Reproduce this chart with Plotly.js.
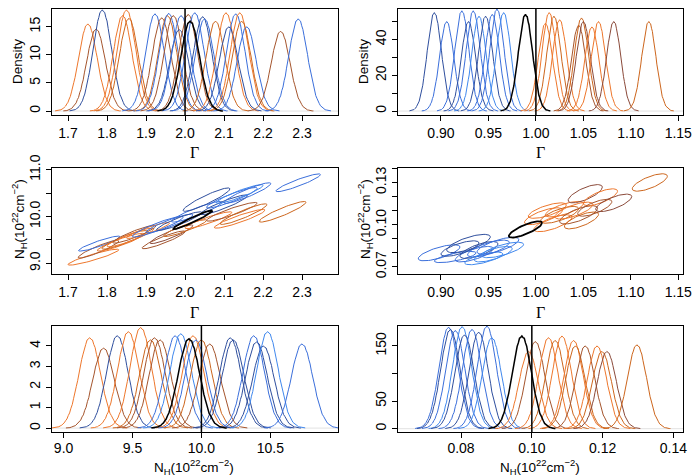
<!DOCTYPE html>
<html>
<head>
<meta charset="utf-8">
<script src="https://cdn.plot.ly/plotly-3.0.1.min.js"></script>
<style>html,body{margin:0;padding:0;background:#fff}#graph1{width:692px;height:476px}</style>
</head>
<body>
<div id="graph1"></div>
<script>
(function() {
  const BLUE = '#3b6fdb', LBLUE = '#4088ee', DBLUE = '#2f4f9e';
  const ORANGE = '#ee772c', CORANGE = '#cd661d', SIENNA = '#a5552d', DBROWN = '#8b4a3a';

  // shape of one posterior histogram, offsets -3.5..3.5 sd in steps of 0.125
  const profile = [0.002, 0.004, 0.004, 0.008, 0.012, 0.015, 0.024, 0.030, 0.046, 0.058, 0.082, 0.101, 0.138, 0.168,
    0.220, 0.262, 0.330, 0.384, 0.462, 0.525, 0.612, 0.676, 0.760, 0.818, 0.886, 0.925, 0.975, 0.985, 1.000,
    0.982, 0.975, 0.925, 0.890, 0.815, 0.762, 0.675, 0.612, 0.524, 0.465, 0.380, 0.330, 0.260, 0.222, 0.165,
    0.140, 0.100, 0.083, 0.057, 0.047, 0.030, 0.025, 0.014, 0.012, 0.006, 0.005, 0.002, 0.002];

  // top left: Gamma posteriors, true value 2.0
  const gamLoCenter = [1.751, 1.772, 1.788, 1.840, 1.850, 1.856, 1.923, 1.940, 1.955, 1.958, 1.970, 1.985, 1.990,
    2.008, 2.025, 2.045, 2.050, 2.078, 2.105, 2.112, 2.130, 2.140, 2.145, 2.158, 2.245, 2.290];
  const gamLoPeak = [15.5, 14.6, 18.0, 17.0, 18.0, 16.5, 17.3, 16.6, 17.0, 17.4, 17.0, 14.5, 17.0,
    17.2, 17.5, 16.8, 16.4, 16.0, 17.5, 15.0, 17.3, 17.5, 16.0, 15.0, 14.2, 16.4];
  const gamLoColor = [ORANGE, SIENNA, DBLUE, ORANGE, ORANGE, CORANGE, BLUE, SIENNA, CORANGE, BLUE, SIENNA, DBLUE, BLUE,
    SIENNA, BLUE, DBLUE, BLUE, CORANGE, ORANGE, DBLUE, BLUE, ORANGE, CORANGE, BLUE, SIENNA, BLUE];
  const gamLoRef = {center: 2.013, peak: 16.0, truth: 2.0};

  // top right: Gamma posteriors, true value 1.0
  const gamHiCenter = [0.893, 0.906, 0.922, 0.929, 0.934, 0.940, 0.947, 0.954, 0.959, 0.966,
    1.010, 1.014, 1.019, 1.025, 1.045, 1.048, 1.050, 1.059, 1.066, 1.082, 1.119];
  const gamHiPeak = [55, 50, 56, 50, 56, 53, 53, 54, 57, 55, 49, 55, 53, 51, 48, 52, 50, 47, 50, 50, 50];
  const gamHiColor = [DBLUE, BLUE, BLUE, DBLUE, BLUE, LBLUE, DBLUE, BLUE, BLUE, LBLUE,
    ORANGE, ORANGE, CORANGE, ORANGE, SIENNA, CORANGE, DBROWN, ORANGE, ORANGE, DBROWN, CORANGE];
  const gamHiRef = {center: 0.989, peak: 54, truth: 1.0};

  // middle left: joint contours (Gamma, NH)
  const jLoGam = [1.765, 1.778, 1.780, 1.835, 1.845, 1.860, 1.870, 1.905, 1.930, 1.945, 1.965, 1.960, 1.985,
    2.000, 2.030, 2.055, 2.060, 2.100, 2.120, 2.140, 2.160, 2.120, 2.140, 2.150, 2.250, 2.290];
  const jLoNh = [9.13, 9.30, 9.42, 9.45, 9.50, 9.55, 9.62, 9.70, 9.78, 9.50, 9.62, 9.85, 9.90,
    9.75, 10.10, 10.36, 9.92, 10.25, 10.40, 10.48, 10.50, 10.10, 9.95, 10.05, 10.10, 10.72];
  const jLoGamHalf = [0.065, 0.052, 0.053, 0.060, 0.058, 0.060, 0.055, 0.055, 0.065, 0.055, 0.055, 0.060, 0.058,
    0.055, 0.065, 0.060, 0.060, 0.060, 0.065, 0.060, 0.060, 0.065, 0.065, 0.060, 0.060, 0.057];
  const jLoNhHalf = [0.17, 0.19, 0.16, 0.19, 0.20, 0.20, 0.19, 0.17, 0.22, 0.19, 0.20, 0.20, 0.20,
    0.18, 0.22, 0.25, 0.18, 0.21, 0.22, 0.20, 0.22, 0.20, 0.20, 0.22, 0.22, 0.19];
  const jLoColor = [ORANGE, SIENNA, BLUE, ORANGE, CORANGE, ORANGE, SIENNA, ORANGE, BLUE, SIENNA, DBROWN, BLUE, DBLUE,
    CORANGE, BLUE, DBLUE, ORANGE, DBLUE, BLUE, LBLUE, BLUE, SIENNA, ORANGE, CORANGE, CORANGE, BLUE];
  const jLoRho = 0.92;
  const jLoRef = {gam: 2.02, nh: 9.93, gamHalf: 0.05, nhHalf: 0.20, rho: 0.96};

  // middle right: joint contours (Gamma, NH)
  const jHiGam = [0.898, 0.915, 0.929, 0.935, 0.940, 0.945, 0.950, 0.955, 0.960, 0.965, 0.920,
    1.008, 1.012, 1.018, 1.025, 1.030, 1.045, 1.048, 1.040, 1.052, 1.068, 1.062, 1.082, 1.120];
  const jHiNh = [0.0800, 0.0770, 0.0866, 0.0790, 0.0820, 0.0760, 0.0830, 0.0790, 0.0850, 0.0820, 0.0830,
    0.1060, 0.1100, 0.1010, 0.1070, 0.1110, 0.1070, 0.1030, 0.1100, 0.1220, 0.1195, 0.1120, 0.1155, 0.1300];
  const jHiGamHalf = [0.022, 0.022, 0.023, 0.020, 0.020, 0.020, 0.022, 0.020, 0.022, 0.022, 0.020,
    0.020, 0.020, 0.020, 0.020, 0.020, 0.020, 0.018, 0.020, 0.018, 0.018, 0.018, 0.019, 0.0185];
  const jHiNhHalf = [0.0057, 0.0040, 0.0065, 0.0055, 0.0060, 0.0045, 0.0060, 0.0055, 0.0060, 0.0055, 0.0055,
    0.0060, 0.0055, 0.0060, 0.0060, 0.0055, 0.0065, 0.0060, 0.0060, 0.0065, 0.0060, 0.0060, 0.0062, 0.0062];
  const jHiColor = [BLUE, BLUE, DBLUE, BLUE, DBLUE, LBLUE, BLUE, LBLUE, BLUE, LBLUE, DBLUE,
    ORANGE, ORANGE, ORANGE, CORANGE, ORANGE, SIENNA, CORANGE, ORANGE, DBROWN, ORANGE, SIENNA, DBROWN, CORANGE];
  const jHiRho = 0.72;
  const jHiRef = {gam: 0.989, nh: 0.0966, gamHalf: 0.0175, nhHalf: 0.0058, rho: 0.8};

  // bottom left: NH posteriors, true value 10.0
  const nhLoCenter = [9.19, 9.29, 9.39, 9.47, 9.56, 9.63, 9.66, 9.70, 9.81, 9.85, 9.94, 9.96, 10.00, 10.06,
    10.21, 10.23, 10.38, 10.40, 10.45, 10.48, 10.73];
  const nhLoPeak = [4.4, 3.9, 4.5, 4.7, 4.9, 4.3, 4.4, 4.3, 4.5, 4.6, 4.5, 4.3, 4.3, 4.1,
    4.4, 4.3, 4.5, 4.2, 4.0, 4.7, 4.1];
  const nhLoColor = [ORANGE, SIENNA, DBLUE, ORANGE, ORANGE, CORANGE, SIENNA, SIENNA, BLUE, LBLUE, ORANGE, BLUE, CORANGE, SIENNA,
    DBLUE, DBLUE, BLUE, DBLUE, DBLUE, LBLUE, BLUE];
  const nhLoRef = {center: 9.91, peak: 4.35, truth: 10.0};

  // bottom right: NH posteriors, true value 0.10
  const nhHiCenter = [0.0765, 0.0770, 0.0784, 0.0803, 0.0810, 0.0831, 0.0850, 0.0873, 0.0887,
    0.0991, 0.1010, 0.1047, 0.1066, 0.1085, 0.1118, 0.1123, 0.1151, 0.1184, 0.1198, 0.1212, 0.1297];
  const nhHiPeak = [184, 180, 178, 185, 170, 180, 175, 186, 165, 140, 158, 165, 160, 168, 160, 150, 150, 150, 140, 140, 152];
  const nhHiColor = [BLUE, DBLUE, BLUE, LBLUE, DBLUE, BLUE, DBLUE, BLUE, LBLUE,
    ORANGE, SIENNA, ORANGE, CORANGE, ORANGE, ORANGE, CORANGE, SIENNA, ORANGE, CORANGE, DBROWN, CORANGE];
  const nhHiRef = {center: 0.0972, peak: 168, truth: 0.10};

  const W = 692, H = 476;
  const FONT = 'Liberation Sans, Arial, Helvetica, sans-serif';
  const SERIF = 'Liberation Serif, Times New Roman, serif';

  function densities(centers, peaks, colors, ref, sd, xa, ya) {
    const out = [];
    const n = profile.length, mid = (n - 1) / 2;
    function one(c, p, col, i, w) {
      const prof = i % 2 ? profile.slice().reverse() : profile;
      return {x: prof.map((_, k) => c + (k - mid) * 0.125 * sd), y: prof.map(v => v * p),
        type: 'scatter', mode: 'lines', line: {color: col, width: w}, xaxis: xa, yaxis: ya,
        hoverinfo: 'skip', showlegend: false};
    }
    centers.forEach((c, i) => out.push(one(c, peaks[i], colors[i], i, 1)));
    out.push(one(ref.center, ref.peak, '#000', 0, 1.5));
    return out;
  }

  function ellipses(gx, ny, gh, nh, colors, rho, ref, xa, ya) {
    const steps = 72;
    function one(cx, cy, sx, sy, r, col, w) {
      const xs = [], ys = [];
      for (let k = 0; k <= steps; k++) {
        const t = 2 * Math.PI * k / steps;
        xs.push(cx + sx * Math.cos(t));
        ys.push(cy + sy * (r * Math.cos(t) + Math.sqrt(1 - r * r) * Math.sin(t)));
      }
      return {x: xs, y: ys, type: 'scatter', mode: 'lines', line: {color: col, width: w},
        xaxis: xa, yaxis: ya, hoverinfo: 'skip', showlegend: false};
    }
    const out = gx.map((c, i) => one(c, ny[i], gh[i], nh[i], rho, colors[i], 1));
    out.push(one(ref.gam, ref.nh, ref.gamHalf, ref.nhHalf, ref.rho, '#000', 1.8));
    return out;
  }

  const data = [].concat(
    densities(gamLoCenter, gamLoPeak, gamLoColor, gamLoRef, 0.024, 'x', 'y'),
    densities(gamHiCenter, gamHiPeak, gamHiColor, gamHiRef, 0.0075, 'x2', 'y2'),
    ellipses(jLoGam, jLoNh, jLoGamHalf, jLoNhHalf, jLoColor, jLoRho, jLoRef, 'x3', 'y3'),
    ellipses(jHiGam, jHiNh, jHiGamHalf, jHiNhHalf, jHiColor, jHiRho, jHiRef, 'x4', 'y4'),
    densities(nhLoCenter, nhLoPeak, nhLoColor, nhLoRef, 0.078, 'x5', 'y5'),
    densities(nhHiCenter, nhHiPeak, nhHiColor, nhHiRef, 0.0027, 'x6', 'y6')
  );

  const dx = (a, b) => [a / W, b / W];
  const dy = (top, bottom) => [1 - bottom / H, 1 - top / H];

  function ax(extra) {
    return Object.assign({
      showgrid: false, zeroline: false, showline: true, mirror: true, linecolor: '#000', linewidth: 1,
      ticks: 'outside', ticklen: 5, tickcolor: '#000', tickwidth: 1, ticklabeloverflow: 'allow',
      tickfont: {family: FONT, size: 14, color: '#000'}, tickmode: 'array', fixedrange: true
    }, extra);
  }
  const minor = (tick0, step) => ({tick0: tick0, dtick: step, ticks: 'outside', ticklen: 5, tickcolor: '#000', tickwidth: 1, showgrid: false});

  const gLoTicks = [1.7, 1.8, 1.9, 2.0, 2.1, 2.2, 2.3];
  const gHiTicks = [0.90, 0.95, 1.00, 1.05, 1.10, 1.15];

  const layout = {
    width: W, height: H, margin: {l: 0, r: 0, t: 0, b: 0},
    paper_bgcolor: '#fff', plot_bgcolor: '#fff', showlegend: false,
    xaxis: ax({domain: dx(52, 338), range: [1.659, 2.392], anchor: 'y', tickvals: gLoTicks, ticktext: gLoTicks.map(v => v.toFixed(1))}),
    yaxis: ax({domain: dy(9, 115), range: [-0.7, 18.15], anchor: 'x', tickvals: [0, 5, 10, 15], ticktext: ['0', '5', '10', '15'], tickangle: -90}),
    xaxis2: ax({domain: dx(398, 683), range: [0.8547, 1.155], anchor: 'y2', tickvals: gHiTicks, ticktext: gHiTicks.map(v => v.toFixed(2))}),
    yaxis2: ax({domain: dy(9, 115), range: [-2.2, 57], anchor: 'x2', tickvals: [0, 20, 40], ticktext: ['0', '20', '40'], tickangle: -90, minor: minor(0, 10)}),
    xaxis3: ax({domain: dx(52, 338), range: [1.659, 2.392], anchor: 'y3', tickvals: gLoTicks, ticktext: gLoTicks.map(v => v.toFixed(1))}),
    yaxis3: ax({domain: dy(168, 274), range: [8.77, 11.036], anchor: 'x3', tickvals: [9, 10, 11], ticktext: ['9.0', '10.0', '11.0'], tickangle: -90, minor: minor(9, 0.5)}),
    xaxis4: ax({domain: dx(398, 683), range: [0.8547, 1.155], anchor: 'y4', tickvals: gHiTicks, ticktext: gHiTicks.map(v => v.toFixed(2))}),
    yaxis4: ax({domain: dy(168, 274), range: [0.0649, 0.1403], anchor: 'x4', tickvals: [0.07, 0.10, 0.13], ticktext: ['0.07', '0.10', '0.13'], tickangle: -90, minor: minor(0.07, 0.01)}),
    xaxis5: ax({domain: dx(52, 338), range: [8.916, 10.991], anchor: 'y5', tickvals: [9.0, 9.5, 10.0, 10.5], ticktext: ['9.0', '9.5', '10.0', '10.5'], ticklabelstandoff: -2}),
    yaxis5: ax({domain: dy(326, 432), range: [-0.19, 4.97], anchor: 'x5', tickvals: [0, 1, 2, 3, 4], ticktext: ['0', '1', '2', '3', '4'], tickangle: -90}),
    xaxis6: ax({domain: dx(398, 683), range: [0.0622, 0.1427], anchor: 'y6', tickvals: [0.08, 0.10, 0.12, 0.14], ticktext: ['0.08', '0.10', '0.12', '0.14'], ticklabelstandoff: -2}),
    yaxis6: ax({domain: dy(326, 432), range: [-6, 186], anchor: 'x6', tickvals: [0, 50, 150], ticktext: ['0', '50', '150'], tickangle: -90, minor: minor(0, 50)}),
    shapes: [],
    annotations: []
  };

  // baselines and true-value markers on the density panels
  [['x', 'y', gamLoRef.truth], ['x2', 'y2', gamHiRef.truth], ['x5', 'y5', nhLoRef.truth], ['x6', 'y6', nhHiRef.truth]].forEach(([xa, ya, t]) => {
    layout.shapes.push({type: 'line', xref: xa + ' domain', yref: ya, x0: 0, x1: 1, y0: 0, y1: 0, line: {color: '#e2e2e2', width: 1}, layer: 'below'});
    layout.shapes.push({type: 'line', xref: xa, yref: ya + ' domain', x0: t, x1: t, y0: 0, y1: 1, line: {color: '#000', width: 1.5}});
  });

  const NH = 'N<sub>H</sub>(10<sup>22</sup>cm<sup>\u22122</sup>)';
  function note(text, px, py, rot, font) {
    layout.annotations.push({text: text, x: px / W, y: 1 - py / H, xref: 'paper', yref: 'paper',
      xanchor: 'center', yanchor: 'middle', showarrow: false, textangle: rot, font: font});
  }
  const f13 = {family: FONT, size: 13.5, color: '#000'};
  const fG = {family: SERIF, size: 16, color: '#000'};
  note('Density', 18, 62, -90, f13);
  note('Density', 364, 62, -90, f13);
  note('\u0393', 194, 152, 0, fG);
  note('\u0393', 540, 152, 0, fG);
  note(NH, 19, 219, -90, f13);
  note(NH, 365, 219, -90, f13);
  note('\u0393', 194, 312, 0, fG);
  note('\u0393', 540, 312, 0, fG);
  note(NH, 194, 467, 0, f13);
  note(NH, 540, 467, 0, f13);

  Plotly.newPlot('graph1', data, layout, {displayModeBar: false, staticPlot: true});
})();
</script>
</body>
</html>
